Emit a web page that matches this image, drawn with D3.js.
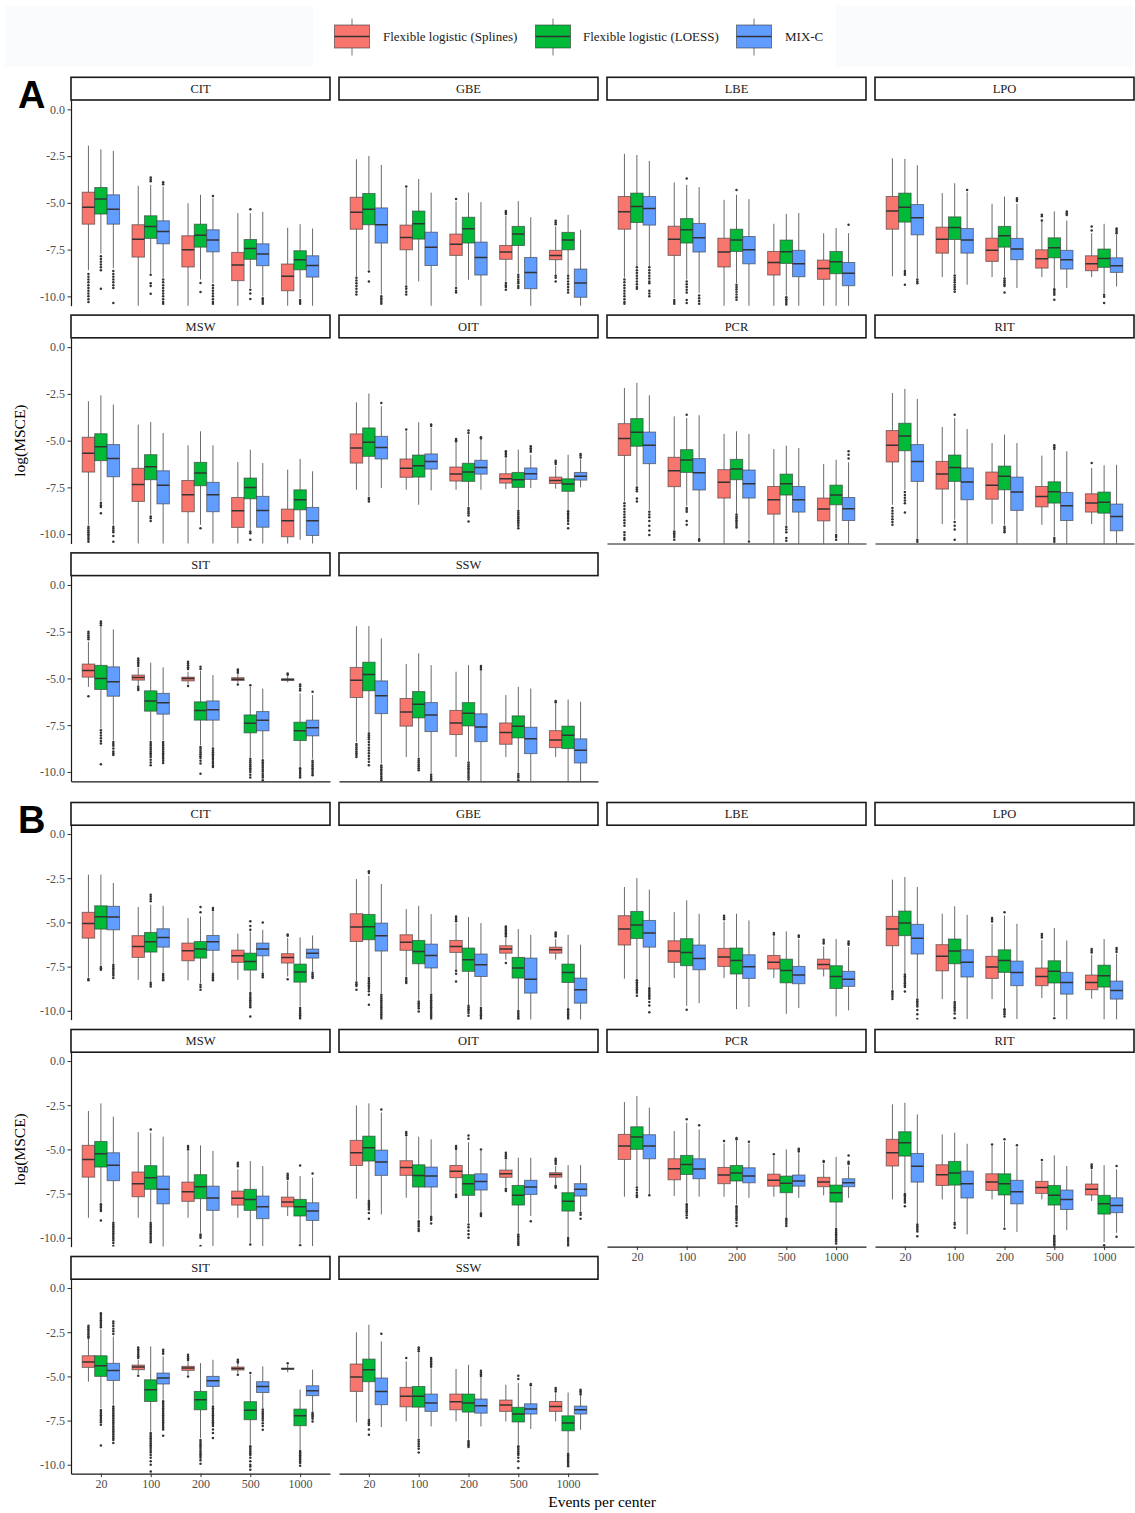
<!DOCTYPE html>
<html>
<head>
<meta charset="utf-8">
<script src="https://cdn.jsdelivr.net/npm/d3@7"></script>
<style>
  body { margin: 0; background: #fff; }
  svg { display: block; }
  text { font-family: "Liberation Serif", "Times New Roman", serif; }
</style>
</head>
<body>
<svg id="chart" width="1135" height="1513"></svg>
<script>
// Facets, x categories, methods
const facets = ["CIT", "GBE", "LBE", "LPO", "MSW", "OIT", "PCR", "RIT", "SIT", "SSW"];
const events = ["20", "100", "200", "500", "1000"];
const methods = ["Flexible logistic (Splines)", "Flexible logistic (LOESS)", "MIX-C"];
const methodColors = ["#F8766D", "#00BA38", "#619CFF"];
const yTicks = [0, -2.5, -5, -7.5, -10];

// Each box: [upper whisker, Q3, median, Q1, lower whisker, [outliers]]
// Order within a facet: event 20 (Splines, LOESS, MIX-C), event 100 (...), ...

// ---------- Panel A ----------
const aCIT = [
  [-1.94, -4.43, -5.23, -6.14, -8.6, [-8.8, -8.95, -9.1, -9.25, -9.4, -9.55, -9.7, -9.85, -10.0, -10.15, -10.3]],
  [-2.14, -4.18, -4.80, -5.60, -7.72, [-7.85, -8.0, -8.15, -8.3, -8.45, -8.6, -9.6]],
  [-2.22, -4.57, -5.34, -6.14, -8.5, [-8.65, -8.8, -8.95, -9.1, -9.25, -9.4, -9.55, -10.35]],
  [-4.09, -6.17, -6.94, -7.90, -10.6, []],
  [-4.04, -5.69, -6.26, -6.90, -8.75, [-3.65, -3.75, -3.85, -8.84, -9.3, -9.45, -9.86]],
  [-4.13, -5.96, -6.53, -7.19, -9.0, [-3.9, -4.0, -9.1, -9.25, -9.4, -9.55, -9.7, -9.85, -10.0, -10.15, -10.3, -10.4]],
  [-5.02, -6.76, -7.51, -8.43, -10.6, []],
  [-4.57, -6.14, -6.73, -7.37, -9.1, [-9.29, -9.77]],
  [-4.75, -6.44, -6.98, -7.62, -9.3, [-4.63, -9.4, -9.55, -9.7, -9.85, -10.0, -10.15, -10.3, -10.4]],
  [-5.55, -7.65, -8.33, -9.16, -10.6, []],
  [-5.55, -6.96, -7.44, -8.02, -9.55, [-5.34, -9.65, -9.85, -10.14]],
  [-5.48, -7.19, -7.74, -8.36, -10.0, [-10.1, -10.2, -10.3, -10.4]],
  [-6.33, -8.27, -8.93, -9.70, -10.6, []],
  [-6.14, -7.56, -8.04, -8.58, -10.09, [-10.2, -10.3, -10.4]],
  [-6.37, -7.83, -8.35, -8.97, -10.6, []]
];
const aGBE = [
  [-2.67, -4.70, -5.50, -6.41, -8.93, [-9.0, -9.15, -9.3, -9.45, -9.6, -9.75, -9.9]],
  [-2.49, -4.50, -5.34, -6.17, -8.58, [-8.67, -9.2]],
  [-2.97, -5.27, -6.17, -7.15, -9.9, [-10.0, -10.1, -10.2, -10.3, -10.4]],
  [-4.22, -6.19, -6.85, -7.51, -9.38, [-4.13, -9.47, -9.6, -9.75, -9.9]],
  [-3.72, -5.44, -6.12, -6.94, -9.2, []],
  [-4.45, -6.57, -7.37, -8.35, -10.6, []],
  [-4.93, -6.67, -7.22, -7.81, -9.47, [-4.80, -9.55, -9.7, -9.8]],
  [-4.45, -5.77, -6.39, -7.15, -9.11, []],
  [-4.96, -7.10, -7.92, -8.86, -10.6, []],
  [-5.69, -7.28, -7.63, -8.02, -9.2, [-5.44, -5.52, -5.6, -9.29, -9.4, -9.5, -9.65]],
  [-4.91, -6.26, -6.67, -7.28, -8.75, [-8.84, -8.97, -9.1, -9.2, -9.3, -9.45, -9.55]],
  [-5.77, -7.92, -8.72, -9.59, -10.6, []],
  [-6.26, -7.54, -7.81, -8.04, -8.84, [-5.96, -6.05, -6.15, -8.9, -9.0, -9.2]],
  [-5.64, -6.58, -6.98, -7.51, -8.84, [-8.9, -9.05, -9.2, -9.35, -9.5, -9.65, -9.8]],
  [-6.44, -8.54, -9.29, -10.05, -10.6, []]
];
const aLBE = [
  [-2.38, -4.66, -5.48, -6.41, -9.0, [-9.1, -9.25, -9.4, -9.55, -9.7, -9.85, -10.0, -10.15, -10.3, -10.4]],
  [-2.44, -4.48, -5.20, -6.05, -8.4, [-8.45, -8.6, -8.75, -8.9, -9.05, -9.2, -9.35, -9.5, -9.6]],
  [-2.76, -4.66, -5.30, -6.19, -8.4, [-8.45, -8.6, -8.75, -8.9, -9.05, -9.2, -9.3, -9.7, -9.85, -10.0]],
  [-3.91, -6.25, -6.94, -7.81, -10.09, [-10.2, -10.3, -10.4]],
  [-4.04, -5.84, -6.44, -7.15, -9.1, [-3.70, -9.2, -9.35, -9.5, -9.65, -9.8, -10.2, -10.35]],
  [-4.16, -6.10, -6.87, -7.63, -9.82, [-9.95, -10.1, -10.25, -10.4]],
  [-4.84, -6.89, -7.63, -8.43, -10.6, []],
  [-4.57, -6.41, -6.98, -7.60, -9.29, [-4.31, -9.38, -9.5, -9.62, -9.75, -9.9, -10.05, -10.18]],
  [-4.80, -6.80, -7.51, -8.26, -10.6, []],
  [-6.12, -7.60, -8.19, -8.86, -10.6, []],
  [-5.59, -6.99, -7.62, -8.24, -9.96, [-10.05, -10.15, -10.25, -10.35, -10.45]],
  [-5.55, -7.54, -8.26, -8.95, -10.6, []],
  [-6.62, -8.06, -8.51, -9.09, -10.6, []],
  [-6.35, -7.60, -8.15, -8.79, -10.6, []],
  [-6.62, -8.19, -8.77, -9.43, -10.6, [-6.17]]
];
const aLPO = [
  [-2.62, -4.66, -5.44, -6.41, -8.93, []],
  [-2.65, -4.48, -5.23, -6.03, -8.58, [-8.65, -8.75, -8.85, -9.38]],
  [-2.99, -5.09, -5.80, -6.71, -9.02, [-9.1, -9.2, -9.3]],
  [-4.48, -6.30, -6.94, -7.69, -8.97, []],
  [-3.95, -5.75, -6.32, -6.96, -8.79, [-8.88, -9.0, -9.12, -9.25, -9.38, -9.5, -9.62, -9.75]],
  [-4.43, -6.37, -6.98, -7.69, -9.38, [-4.31]],
  [-5.05, -6.89, -7.54, -8.13, -8.97, []],
  [-4.66, -6.26, -6.76, -7.37, -8.97, [-9.05, -9.15, -9.25, -9.35, -9.45, -9.8]],
  [-5.05, -6.90, -7.47, -8.04, -9.55, [-4.75, -4.82, -4.9]],
  [-6.0, -7.51, -7.99, -8.49, -8.97, [-5.64, -5.72, -5.94]],
  [-5.46, -6.87, -7.40, -7.94, -9.55, [-9.62, -9.72, -9.82, -9.92, -10.18]],
  [-5.95, -7.54, -8.04, -8.54, -9.55, [-5.46, -5.55, -5.65]],
  [-6.62, -7.83, -8.26, -8.63, -8.97, [-6.26, -6.48]],
  [-6.12, -7.47, -7.97, -8.45, -9.82, [-9.92, -10.02, -10.35]],
  [-6.71, -7.94, -8.36, -8.72, -9.47, [-6.37, -6.45, -6.55, -6.62]]
];
const aMSW = [
  [-2.89, -4.82, -5.68, -6.68, -9.5, [-9.6, -9.7, -9.8, -9.9, -10.0, -10.1, -10.2, -10.3, -10.4]],
  [-2.57, -4.63, -5.32, -6.07, -8.25, [-8.34, -8.45, -8.55, -8.88]],
  [-3.07, -5.21, -5.95, -6.93, -9.5, [-9.6, -9.7, -9.8, -9.9, -10.1, -10.4]],
  [-4.14, -6.48, -7.34, -8.25, -10.6, []],
  [-4.0, -5.75, -6.39, -7.09, -8.96, [-9.05, -9.15, -9.3]],
  [-4.59, -6.61, -7.39, -8.38, -10.6, []],
  [-5.25, -7.13, -7.89, -8.8, -10.6, []],
  [-4.5, -6.16, -6.73, -7.41, -9.5, [-9.68]],
  [-5.25, -7.23, -7.89, -8.8, -10.6, []],
  [-6.14, -8.04, -8.75, -9.64, -10.6, []],
  [-5.48, -7.0, -7.5, -8.11, -9.77, [-9.86, -9.95, -10.3]],
  [-6.2, -7.98, -8.73, -9.63, -10.6, []],
  [-6.55, -8.66, -9.29, -10.14, -10.6, []],
  [-5.98, -7.63, -8.16, -8.7, -10.3, []],
  [-6.64, -8.57, -9.29, -10.07, -10.6, []]
];
const aOIT = [
  [-2.95, -4.64, -5.39, -6.2, -7.63, []],
  [-2.48, -4.32, -5.09, -5.84, -7.98, [-8.07, -8.15, -8.25]],
  [-3.16, -4.77, -5.36, -5.98, -7.54, [-2.98]],
  [-4.5, -5.98, -6.48, -6.96, -7.63, [-4.41]],
  [-4.02, -5.77, -6.34, -6.95, -8.43, []],
  [-4.32, -5.71, -6.11, -6.52, -7.66, [-4.14, -4.22]],
  [-5.13, -6.41, -6.79, -7.16, -7.63, [-4.91, -4.98, -5.05]],
  [-4.68, -6.21, -6.68, -7.18, -8.52, [-4.46, -4.59, -8.6, -8.7, -8.8, -8.9, -9.0, -9.32]],
  [-4.95, -6.05, -6.43, -6.79, -7.63, [-4.82, -4.88]],
  [-5.95, -6.77, -7.04, -7.27, -7.59, [-5.57, -5.66, -5.75, -5.85]],
  [-5.48, -6.7, -7.09, -7.5, -8.66, [-8.75, -8.85, -8.95, -9.05, -9.15, -9.25, -9.35, -9.45, -9.55, -9.68]],
  [-5.75, -6.46, -6.77, -7.07, -7.54, [-5.3, -5.4, -5.5, -5.6]],
  [-6.35, -6.95, -7.13, -7.29, -7.57, [-6.07, -6.15, -6.25]],
  [-5.75, -7.04, -7.32, -7.71, -8.7, [-8.78, -8.88, -8.98, -9.08, -9.18, -9.3, -9.45, -9.68]],
  [-6.0, -6.7, -6.91, -7.11, -7.5, [-5.71, -5.8, -5.9]]
];
const aPCR = [
  [-2.18, -4.09, -4.88, -5.79, -8.25, [-8.35, -8.5, -8.65, -8.8, -8.95, -9.1, -9.25, -9.4, -9.55, -9.9, -10.05, -10.2, -10.3]],
  [-1.91, -3.82, -4.55, -5.3, -7.41, [-7.5, -7.6, -7.7, -8.1, -8.25]],
  [-2.57, -4.54, -5.25, -6.23, -8.7, [-8.8, -8.95, -9.1, -9.3, -9.55, -9.8, -10.04]],
  [-3.7, -5.89, -6.61, -7.46, -9.77, [-9.86, -9.95, -10.05, -10.15, -10.3]],
  [-3.79, -5.48, -6.04, -6.7, -8.48, [-3.61, -8.6, -8.7, -8.8, -9.3, -9.5]],
  [-3.64, -5.96, -6.71, -7.64, -10.21, [-10.27, -10.35]],
  [-4.64, -6.55, -7.23, -8.07, -10.6, []],
  [-4.5, -6.0, -6.52, -7.09, -8.88, [-8.95, -9.05, -9.15, -9.25, -9.35, -9.45, -9.55, -9.65]],
  [-4.64, -6.57, -7.3, -8.07, -10.3, [-10.39]],
  [-5.45, -7.45, -8.16, -8.93, -10.6, []],
  [-5.27, -6.79, -7.3, -7.91, -9.55, [-9.62, -9.75, -9.9, -10.2, -10.35]],
  [-5.39, -7.45, -8.16, -8.82, -10.6, []],
  [-6.25, -8.07, -8.66, -9.29, -10.6, []],
  [-6.02, -7.38, -7.91, -8.43, -9.95, [-10.05, -10.15, -10.3]],
  [-6.16, -8.04, -8.64, -9.27, -10.6, [-5.57, -5.75, -5.95]]
];
const aRIT = [
  [-2.45, -4.46, -5.25, -6.14, -8.43, [-8.6, -8.75, -8.9, -9.05, -9.2, -9.35, -9.5]],
  [-2.23, -4.07, -4.75, -5.54, -7.63, [-7.75, -7.9, -8.05, -8.2, -8.35, -8.84]],
  [-2.77, -5.21, -6.11, -7.18, -10.21, [-10.3, -10.4]],
  [-4.27, -6.11, -6.79, -7.59, -9.46, []],
  [-3.79, -5.77, -6.43, -7.18, -9.23, [-3.61, -9.35, -9.55, -9.75, -10.3]],
  [-4.38, -6.46, -7.21, -8.16, -10.6, []],
  [-5.13, -6.68, -7.39, -8.13, -9.45, []],
  [-4.68, -6.36, -6.91, -7.63, -9.5, [-9.6, -9.7, -9.8, -9.9]],
  [-5.13, -6.95, -7.75, -8.73, -10.6, []],
  [-5.8, -7.45, -7.98, -8.54, -9.5, []],
  [-5.52, -7.2, -7.73, -8.34, -10.12, [-5.25, -5.35, -5.45, -10.2, -10.3, -10.4]],
  [-5.57, -7.77, -8.48, -9.27, -10.6, []],
  [-6.46, -7.84, -8.34, -8.82, -9.46, [-6.2]],
  [-6.32, -7.75, -8.29, -8.88, -10.6, []],
  [-6.29, -8.39, -9.05, -9.82, -10.6, []]
];
const aSIT = [
  [-3.04, -4.23, -4.57, -4.93, -5.45, [-2.5, -2.6, -2.7, -2.8, -2.9, -5.95]],
  [-2.23, -4.3, -5.0, -5.59, -7.68, [-1.96, -2.05, -2.15, -7.77, -7.9, -8.05, -8.2, -8.35, -8.48, -9.59]],
  [-2.38, -4.38, -5.18, -5.95, -8.3, [-8.4, -8.5, -8.6, -8.75, -8.9, -9.0, -9.1]],
  [-4.43, -4.82, -4.95, -5.09, -5.39, [-3.93, -4.03, -4.13, -4.23, -4.33, -5.45, -5.55, -5.62]],
  [-4.16, -5.66, -6.21, -6.75, -8.3, [-8.4, -8.5, -8.6, -8.7, -8.8, -8.9, -9.0, -9.1, -9.2, -9.35, -9.5, -9.64]],
  [-4.41, -5.8, -6.3, -6.91, -8.3, [-8.4, -8.5, -8.6, -8.7, -8.8, -8.9, -9.0, -9.1, -9.2, -9.3, -9.4, -9.52]],
  [-4.64, -4.93, -5.0, -5.13, -5.32, [-4.11, -4.2, -4.3, -4.4, -4.5, -5.41]],
  [-4.59, -6.25, -6.71, -7.23, -8.57, [-4.38, -4.5, -8.66, -8.76, -8.86, -8.96, -9.06, -9.16, -9.26, -9.4, -9.55, -10.09]],
  [-4.82, -6.2, -6.68, -7.23, -8.66, [-8.75, -8.85, -8.95, -9.05, -9.15, -9.25, -9.35, -9.45, -9.55, -9.65, -9.73]],
  [-4.77, -4.96, -5.04, -5.11, -5.23, [-4.52, -4.6, -4.7, -5.32]],
  [-5.45, -6.95, -7.39, -7.91, -9.2, [-5.36, -9.3, -9.4, -9.5, -9.6, -9.7, -9.8, -9.9, -10.0, -10.15, -10.3]],
  [-5.54, -6.77, -7.23, -7.8, -9.29, [-9.38, -9.48, -9.58, -9.68, -9.78, -9.88, -9.98, -10.1, -10.2, -10.3, -10.45]],
  [-4.88, -5.02, -5.05, -5.11, -5.21, [-4.73, -4.8]],
  [-5.8, -7.34, -7.8, -8.32, -9.73, [-5.32, -5.42, -5.55, -5.65, -9.8, -9.9, -10.0, -10.1, -10.2, -10.3]],
  [-5.89, -7.23, -7.63, -8.07, -9.29, [-5.71, -9.4, -9.5, -9.6, -9.7, -9.8, -9.9, -10.0, -10.1, -10.18]]
];
const aSSW = [
  [-2.2, -4.41, -5.09, -6.02, -8.39, [-8.5, -8.6, -8.7, -8.8, -8.9, -9.0, -9.1, -9.2]],
  [-2.2, -4.13, -4.79, -5.66, -7.86, [-7.95, -8.05, -8.15, -8.25, -8.4, -8.55, -8.7, -8.85, -9.0, -9.15, -9.3, -9.45, -9.64]],
  [-2.86, -5.13, -5.93, -6.88, -9.55, [-9.65, -9.75, -9.85, -9.95, -10.05, -10.15, -10.25, -10.35, -10.45]],
  [-4.23, -6.07, -6.79, -7.55, -9.2, []],
  [-3.66, -5.7, -6.38, -7.11, -9.2, [-9.3, -9.4, -9.5, -9.6, -9.7, -9.8, -9.91]],
  [-4.29, -6.29, -6.96, -7.84, -10.09, [-10.15, -10.25, -10.35, -10.45]],
  [-4.64, -6.71, -7.38, -8.0, -9.2, []],
  [-4.29, -6.29, -6.86, -7.54, -9.41, [-9.5, -9.6, -9.7, -9.8, -9.9, -10.0, -10.1, -10.2, -10.3, -10.4]],
  [-4.6, -6.89, -7.59, -8.38, -10.6, [-4.34, -4.43, -4.52]],
  [-5.89, -7.38, -7.89, -8.52, -9.2, []],
  [-5.45, -7.0, -7.55, -8.18, -10.0, [-10.1, -10.2, -10.3, -10.45]],
  [-5.54, -7.61, -8.23, -9.02, -10.6, []],
  [-6.34, -7.79, -8.29, -8.7, -9.2, [-6.2, -6.27]],
  [-6.13, -7.55, -8.04, -8.75, -10.6, []],
  [-6.25, -8.23, -8.84, -9.52, -10.6, []]
];

// ---------- Panel B ----------
const bCIT = [
  [-2.3, -4.43, -5.06, -5.89, -8.11, [-8.2, -8.28]],
  [-2.3, -4.06, -4.68, -5.38, -7.45, [-7.52, -7.6, -7.68]],
  [-2.77, -4.09, -4.7, -5.42, -7.3, [-7.4, -7.5, -7.6, -7.7, -7.8, -7.9, -8.0, -8.15]],
  [-4.13, -5.75, -6.36, -6.98, -8.25, []],
  [-4.0, -5.57, -6.09, -6.68, -8.34, [-3.43, -3.55, -3.68, -3.81, -8.42, -8.52, -8.62]],
  [-4.06, -5.36, -5.85, -6.4, -7.83, [-7.92, -8.02, -8.12, -8.22, -8.28]],
  [-4.75, -6.17, -6.6, -7.17, -8.28, []],
  [-4.66, -6.08, -6.51, -7.02, -8.43, [-4.13, -4.43, -8.53, -8.65, -8.81]],
  [-4.38, -5.74, -6.09, -6.58, -7.83, [-4.19, -4.3, -7.9, -8.0, -8.1, -8.2, -8.28]],
  [-5.64, -6.57, -6.89, -7.26, -8.25, []],
  [-5.51, -6.74, -7.21, -7.7, -8.91, [-4.94, -5.2, -5.42, -9.0, -9.1, -9.2, -9.3, -9.4, -9.5, -9.6, -9.7, -9.8, -10.32]],
  [-5.42, -6.17, -6.51, -6.89, -7.83, [-5.0, -7.9, -8.0, -8.1]],
  [-5.89, -6.77, -6.98, -7.3, -8.06, [-5.68, -5.76, -8.21]],
  [-5.85, -7.36, -7.81, -8.38, -9.75, [-9.85, -9.95, -10.05, -10.15, -10.25, -10.35, -10.45]],
  [-5.74, -6.51, -6.74, -7.02, -7.77, [-7.85, -7.95, -8.05, -8.15]]
];
const bGBE = [
  [-2.55, -4.51, -5.26, -6.08, -8.34, [-8.4, -8.5, -8.6, -8.81]],
  [-2.36, -4.55, -5.25, -5.98, -8.06, [-2.11, -2.2, -8.15, -8.25, -8.35, -8.45, -8.55, -8.65, -8.75, -8.9, -9.1, -9.66]],
  [-2.83, -5.04, -5.75, -6.62, -9.0, [-9.1, -9.2, -9.3, -9.4, -9.5, -9.6, -9.7, -9.8, -9.9, -10.0, -10.1, -10.2, -10.3, -10.4, -10.5]],
  [-4.25, -5.7, -6.13, -6.58, -8.06, [-8.15, -8.25, -8.35, -8.43]],
  [-4.06, -6.02, -6.64, -7.34, -9.38, [-9.47, -9.57, -9.67, -9.77, -9.87, -10.04]],
  [-4.53, -6.23, -6.87, -7.58, -9.0, [-9.1, -9.2, -9.3, -9.4, -9.5, -9.6, -9.7, -9.8, -9.9, -10.0, -10.1, -10.2, -10.3, -10.4, -10.5]],
  [-5.05, -6.02, -6.36, -6.7, -7.68, [-4.66, -4.75, -4.85, -4.94, -7.74, -7.9, -8.34]],
  [-4.7, -6.45, -7.11, -7.77, -9.66, [-9.72, -9.82, -9.92, -10.02, -10.12, -10.28]],
  [-5.04, -6.79, -7.4, -8.06, -9.75, [-9.85, -9.95, -10.05, -10.15, -10.25, -10.35, -10.45]],
  [-5.85, -6.32, -6.51, -6.74, -7.11, [-5.23, -5.3, -5.38, -5.46, -5.54, -5.62, -5.7, -5.78, -7.3]],
  [-5.38, -6.98, -7.58, -8.15, -9.94, [-10.02, -10.12, -10.22, -10.32, -10.42, -10.5]],
  [-5.7, -7.02, -8.21, -9.0, -10.6, []],
  [-5.95, -6.4, -6.55, -6.74, -7.11, [-5.57, -5.65, -5.72, -5.8]],
  [-5.7, -7.36, -7.83, -8.4, -9.85, [-9.91, -10.0, -10.1, -10.2, -10.3, -10.4, -10.47]],
  [-6.26, -8.15, -8.81, -9.57, -10.6, []]
];
const bLBE = [
  [-3.0, -4.62, -5.38, -6.28, -8.19, []],
  [-2.49, -4.38, -5.15, -5.91, -8.21, [-8.28, -8.38, -8.48, -8.58, -8.68, -8.78, -8.88, -8.98, -9.15]],
  [-3.15, -4.89, -5.6, -6.4, -8.66, [-8.72, -8.82, -8.92, -9.02, -9.12, -9.22, -9.32, -9.5, -9.7, -10.09]],
  [-4.42, -6.04, -6.62, -7.26, -8.15, []],
  [-3.75, -5.92, -6.7, -7.45, -9.72, [-9.94]],
  [-4.51, -6.28, -7.04, -7.68, -9.57, []],
  [-4.95, -6.47, -6.96, -7.49, -8.15, [-4.62, -4.72, -4.82]],
  [-4.51, -6.45, -7.15, -7.92, -9.91, []],
  [-4.89, -6.83, -7.51, -8.17, -9.79, []],
  [-5.79, -6.87, -7.26, -7.64, -8.15, [-5.6, -5.68]],
  [-5.51, -7.08, -7.72, -8.42, -10.17, []],
  [-5.95, -7.49, -7.98, -8.47, -9.85, [-5.74, -5.82]],
  [-6.36, -7.08, -7.38, -7.64, -8.06, [-5.98, -6.1, -6.2]],
  [-5.94, -7.45, -8.06, -8.74, -10.32, []],
  [-6.4, -7.77, -8.21, -8.62, -9.98, [-6.08, -6.18, -6.26]]
];
const bLPO = [
  [-2.58, -4.66, -5.38, -6.32, -8.81, [-8.9, -9.0, -9.1, -9.2, -9.34]],
  [-2.43, -4.36, -5.04, -5.75, -7.87, [-7.95, -8.05, -8.15, -8.25, -8.35, -8.45, -8.55, -8.65, -8.91]],
  [-3.0, -5.11, -5.89, -6.79, -9.28, [-9.36, -9.46, -9.56, -9.66, -9.76, -9.95, -10.2, -10.47]],
  [-4.51, -6.26, -6.92, -7.74, -9.34, []],
  [-4.09, -5.94, -6.62, -7.34, -9.42, [-9.5, -9.6, -9.7, -9.8, -9.9, -10.0, -10.15, -10.42]],
  [-4.57, -6.55, -7.26, -8.09, -10.47, []],
  [-5.1, -6.92, -7.53, -8.17, -9.34, [-4.75, -4.85, -4.95]],
  [-4.62, -6.55, -7.15, -7.83, -9.85, [-4.43, -9.91, -10.0, -10.1, -10.2, -10.32]],
  [-5.08, -7.19, -7.83, -8.58, -10.47, []],
  [-6.0, -7.58, -8.06, -8.58, -9.28, [-5.66, -5.75, -5.85]],
  [-5.32, -7.17, -7.77, -8.43, -10.32, [-10.42]],
  [-6.02, -7.83, -8.4, -9.06, -10.5, []],
  [-6.83, -7.98, -8.4, -8.81, -9.32, [-6.51, -6.6, -6.7]],
  [-5.94, -7.42, -8.02, -8.66, -10.5, []],
  [-6.79, -8.32, -8.85, -9.34, -10.5, [-6.45, -6.55, -6.68]]
];
const bMSW = [
  [-2.83, -4.77, -5.57, -6.57, -8.87, []],
  [-2.4, -4.55, -5.25, -6.0, -8.02, [-8.1, -8.2, -8.3, -8.4, -8.49, -9.02]],
  [-3.15, -5.19, -5.89, -6.77, -9.06, [-9.15, -9.25, -9.35, -9.45, -9.55, -9.65, -9.75, -9.85, -9.95, -10.05, -10.15, -10.3, -10.47]],
  [-4.02, -6.28, -6.94, -7.68, -8.87, []],
  [-4.06, -5.92, -6.6, -7.26, -9.06, [-3.87, -9.15, -9.25, -9.35, -9.45, -9.55, -9.65, -9.75, -9.85, -9.95, -10.05, -10.15, -10.25]],
  [-4.28, -6.51, -7.26, -8.08, -10.6, []],
  [-5.1, -6.85, -7.4, -7.94, -8.87, [-4.81, -4.9, -5.0]],
  [-4.77, -6.43, -7.11, -7.79, -9.72, [-9.81, -9.9, -10.0, -10.47]],
  [-5.09, -7.08, -7.75, -8.45, -10.47, []],
  [-6.13, -7.36, -7.77, -8.15, -8.87, [-5.75, -5.85, -5.95]],
  [-5.66, -7.26, -7.83, -8.45, -10.28, [-10.38]],
  [-5.94, -7.64, -8.25, -8.92, -10.47, []],
  [-6.79, -7.7, -7.98, -8.25, -8.77, [-6.38, -6.48, -6.58, -6.68]],
  [-6.51, -7.83, -8.25, -8.77, -10.32, [-5.91, -10.43]],
  [-6.6, -8.02, -8.49, -9.02, -10.47, [-6.36]]
];
const bOIT = [
  [-2.51, -4.49, -5.19, -5.91, -7.79, []],
  [-2.4, -4.25, -4.91, -5.66, -7.83, [-7.9, -8.0, -8.1, -8.2, -8.3, -8.4, -8.6, -8.92]],
  [-2.92, -5.04, -5.72, -6.47, -8.68, [-2.74]],
  [-4.3, -5.64, -6.02, -6.47, -7.74, [-4.02, -4.1, -4.2]],
  [-4.28, -5.87, -6.47, -7.13, -8.96, [-9.06, -9.16, -9.26, -9.36, -9.5, -9.62]],
  [-4.43, -6.0, -6.51, -7.13, -8.74, [-8.81, -8.9, -9.0, -9.19]],
  [-5.05, -5.91, -6.23, -6.6, -7.45, [-4.81, -4.9, -4.98, -7.55, -7.62, -7.7]],
  [-4.6, -6.43, -6.94, -7.6, -9.15, [-4.21, -4.4, -9.25, -9.4, -9.6, -9.8, -10.0]],
  [-5.09, -6.38, -6.81, -7.3, -8.58, [-5.0, -8.62, -8.7, -8.77]],
  [-5.6, -6.17, -6.38, -6.58, -7.11, [-5.19, -5.3, -5.4, -5.5, -7.23, -7.3, -7.36]],
  [-5.47, -7.04, -7.6, -8.15, -9.72, [-9.81, -9.91, -10.01, -10.11, -10.21, -10.31, -10.41]],
  [-5.47, -6.75, -7.13, -7.55, -8.77, [-9.06]],
  [-5.94, -6.32, -6.42, -6.57, -6.98, [-5.53, -5.62, -5.72, -5.82, -7.05, -7.12, -7.17]],
  [-5.89, -7.45, -7.94, -8.49, -9.94, [-10.02, -10.12, -10.22, -10.35, -10.47]],
  [-5.89, -6.94, -7.26, -7.64, -8.49, [-8.58, -8.7, -8.92]]
];
const bPCR = [
  [-2.32, -4.15, -4.81, -5.57, -7.68, []],
  [-1.98, -3.72, -4.3, -5.0, -7.08, [-7.15, -7.3, -7.45, -7.6, -7.7]],
  [-2.64, -4.17, -4.81, -5.53, -7.55, [-7.6]],
  [-3.96, -5.53, -6.09, -6.72, -7.64, []],
  [-3.49, -5.34, -5.85, -6.42, -8.02, [-3.3, -8.11, -8.2, -8.3, -8.4, -8.5, -8.6, -8.72, -8.87]],
  [-3.87, -5.53, -6.11, -6.66, -7.68, [-3.64]],
  [-4.66, -6.02, -6.45, -6.94, -7.68, [-4.53]],
  [-4.5, -5.91, -6.34, -6.79, -8.11, [-4.36, -4.42, -8.21, -8.3, -8.4, -8.5, -8.6, -8.7, -8.8, -8.9, -9.0, -9.15, -9.34]],
  [-4.66, -6.04, -6.51, -6.89, -7.74, [-4.57]],
  [-5.38, -6.4, -6.74, -7.08, -7.68, [-5.28]],
  [-5.0, -6.51, -6.92, -7.45, -8.87, [-8.92, -9.0, -9.1, -9.2, -9.34]],
  [-5.22, -6.45, -6.79, -7.08, -7.74, [-4.96, -5.04, -5.12]],
  [-5.82, -6.58, -6.85, -7.11, -7.6, [-5.66, -5.72]],
  [-5.42, -7.02, -7.45, -7.98, -9.43, [-9.5, -9.6, -9.7, -9.8, -9.9, -10.0, -10.1, -10.2, -10.32]],
  [-5.95, -6.66, -6.89, -7.11, -7.74, [-5.34, -5.7, -5.76, -5.82]]
];
const bRIT = [
  [-2.45, -4.43, -5.19, -5.94, -7.83, []],
  [-2.36, -4.0, -4.62, -5.38, -7.45, [-7.52, -7.6, -7.7, -7.8, -7.9, -8.0, -8.21]],
  [-3.02, -5.23, -5.96, -6.85, -9.19, [-9.25, -9.35, -9.45, -9.55, -9.65, -9.91]],
  [-4.15, -5.87, -6.43, -7.04, -7.83, []],
  [-4.06, -5.68, -6.34, -7.02, -9.06, [-9.15, -9.25, -9.43]],
  [-4.68, -6.23, -6.94, -7.75, -9.81, []],
  [-4.8, -6.38, -6.85, -7.32, -7.83, [-4.72]],
  [-4.55, -6.38, -6.94, -7.58, -9.38, [-4.43, -9.49]],
  [-4.88, -6.75, -7.4, -8.08, -9.68, [-4.77]],
  [-5.7, -6.81, -7.15, -7.49, -7.83, [-5.6]],
  [-5.34, -7.04, -7.6, -8.15, -9.81, [-9.88, -9.96, -10.04, -10.12, -10.2, -10.28, -10.36, -10.47]],
  [-5.94, -7.3, -7.83, -8.4, -9.57, []],
  [-6.15, -6.96, -7.26, -7.58, -7.92, [-5.85, -5.95, -6.05]],
  [-5.89, -7.6, -8.08, -8.66, -10.25, [-10.43]],
  [-6.13, -7.74, -8.17, -8.58, -9.72, [-5.94, -9.94]]
];
const bSIT = [
  [-2.89, -3.83, -4.19, -4.49, -5.3, [-2.13, -2.23, -2.33, -2.43, -2.53, -2.63, -2.73, -2.83]],
  [-2.36, -3.83, -4.4, -5.0, -6.79, [-1.42, -1.52, -1.62, -1.72, -1.82, -1.92, -2.02, -2.12, -2.22, -6.9, -7.0, -7.1, -7.2, -7.3, -7.4, -7.5, -7.6, -7.74, -8.91]],
  [-2.74, -4.26, -4.66, -5.23, -6.6, [-1.89, -2.0, -2.15, -2.3, -2.45, -2.6, -6.7, -6.8, -6.9, -7.0, -7.1, -7.2, -7.3, -7.4, -7.5, -7.6, -7.7, -7.8, -7.9, -8.0, -8.1, -8.2, -8.3, -8.4, -8.5, -8.6, -8.77]],
  [-4.06, -4.36, -4.47, -4.62, -4.87, [-3.36, -3.46, -3.56, -3.66, -3.76, -3.86, -3.96, -4.96]],
  [-3.3, -5.19, -5.75, -6.42, -8.11, [-8.2, -8.3, -8.4, -8.5, -8.6, -8.7, -8.8, -8.9, -9.0, -9.1, -9.2, -9.3, -9.45, -9.6, -9.8, -10.0, -10.38]],
  [-3.87, -4.81, -5.09, -5.43, -6.32, [-3.49, -3.6, -3.72, -6.4, -6.5, -6.6, -6.7, -6.8, -6.9, -7.0, -7.1, -7.2, -7.3, -7.4, -7.5, -7.6, -7.7, -7.8, -7.9, -8.0, -8.36]],
  [-4.15, -4.43, -4.53, -4.66, -4.91, [-3.77, -3.87, -3.97, -4.07, -5.0]],
  [-4.25, -5.85, -6.32, -6.89, -8.49, [-8.6, -8.7, -8.8, -8.9, -9.0, -9.1, -9.2, -9.3, -9.4, -9.5, -9.6, -9.75, -9.94]],
  [-4.06, -5.0, -5.25, -5.57, -6.6, [-6.7, -6.8, -6.9, -7.0, -7.1, -7.2, -7.3, -7.4, -7.5, -7.6, -7.7, -7.8, -8.0, -8.2, -8.49]],
  [-4.25, -4.47, -4.55, -4.64, -4.81, [-4.06, -4.14, -4.21, -4.91]],
  [-4.91, -6.43, -6.92, -7.45, -8.87, [-4.81, -8.95, -9.05, -9.15, -9.25, -9.35, -9.45, -9.6, -9.8, -10.0, -10.1, -10.28]],
  [-4.43, -5.3, -5.57, -5.91, -6.79, [-6.88, -6.98, -7.08, -7.18, -7.28, -7.38, -7.5, -7.65, -7.8, -8.02]],
  [-4.34, -4.53, -4.57, -4.6, -4.77, [-4.25]],
  [-5.75, -6.85, -7.23, -7.79, -9.15, [-9.22, -9.3, -9.38, -9.46, -9.54, -9.62, -9.7, -9.8, -9.9, -10.06]],
  [-4.62, -5.53, -5.81, -6.09, -6.98, [-7.06, -7.14, -7.22, -7.3, -7.4, -7.55]]
];
const bSSW = [
  [-2.51, -4.3, -5.04, -5.85, -7.6, []],
  [-2.08, -4.02, -4.62, -5.3, -7.36, [-7.45, -7.55, -7.65, -7.75, -8.0, -8.3]],
  [-3.02, -5.09, -5.85, -6.6, -7.87, [-2.58]],
  [-4.15, -5.62, -6.13, -6.72, -7.55, [-3.96]],
  [-3.68, -5.57, -6.13, -6.74, -8.49, [-3.36, -3.46, -3.58, -8.58, -8.7, -8.82, -8.95, -9.1, -9.3]],
  [-4.55, -6.0, -6.51, -6.98, -7.83, [-3.96, -4.06, -4.16, -4.26, -4.36, -4.46]],
  [-4.58, -6.0, -6.43, -6.89, -7.55, []],
  [-4.34, -6.0, -6.51, -7.02, -8.58, [-8.66, -8.74, -8.82, -8.9, -9.0]],
  [-5.05, -6.28, -6.66, -7.08, -7.83, [-4.68, -4.78, -4.88, -4.98]],
  [-5.47, -6.34, -6.62, -6.98, -7.55, []],
  [-5.38, -6.75, -7.13, -7.58, -8.87, [-4.96, -5.15, -8.95, -9.05, -9.15, -9.25, -9.35, -9.45, -9.6, -9.8, -10.19]],
  [-5.6, -6.55, -6.85, -7.13, -7.98, [-5.43, -5.5]],
  [-5.95, -6.42, -6.7, -6.98, -7.55, [-5.66, -5.75, -5.85]],
  [-5.91, -7.23, -7.64, -8.08, -9.3, [-9.38, -9.46, -9.54, -9.62, -9.7, -9.8, -9.9, -10.0, -10.09]],
  [-6.1, -6.68, -6.89, -7.13, -8.02, [-5.75, -5.84, -5.93, -6.02]]
];

const panelAData = [aCIT, aGBE, aLBE, aLPO, aMSW, aOIT, aPCR, aRIT, aSIT, aSSW];
const panelBData = [bCIT, bGBE, bLBE, bLPO, bMSW, bOIT, bPCR, bRIT, bSIT, bSSW];

// ---------- layout ----------
const svg = d3.select("#chart");
const colX = [71, 339, 607, 875];
const panelW = 259;
const stripH = 22.7;
const nCols = 4;

const panels = [
  { label: "A", stripTop0: 77.3, pitch: 237.8, plotH: 205.7, data: panelAData, xText: false, letterY: 108 },
  { label: "B", stripTop0: 802.5, pitch: 227, plotH: 194.4, data: panelBData, xText: true, letterY: 833 }
];

// legend band
svg.append("rect").attr("x", 5).attr("y", 6).attr("width", 1128).attr("height", 61).attr("fill", "#fafbfd");
svg.append("rect").attr("x", 313).attr("y", 6).attr("width", 523).attr("height", 61).attr("fill", "#ffffff");
const legendKeyX = [334.5, 535.5, 736.5];
const legendTextX = [383, 583, 785];
methods.forEach((m, i) => {
  const g = svg.append("g");
  const kx = legendKeyX[i], kw = 35, ky = 25, kh = 23;
  g.append("line").attr("x1", kx + kw / 2).attr("x2", kx + kw / 2).attr("y1", 18.5).attr("y2", 55.5)
    .attr("stroke", "#555").attr("stroke-width", 0.8);
  g.append("rect").attr("x", kx).attr("y", ky).attr("width", kw).attr("height", kh)
    .attr("fill", methodColors[i]).attr("stroke", "#333").attr("stroke-opacity", 0.6).attr("stroke-width", 1);
  g.append("line").attr("x1", kx).attr("x2", kx + kw).attr("y1", ky + kh / 2).attr("y2", ky + kh / 2)
    .attr("stroke", "#333").attr("stroke-width", 1.5);
  g.append("text").attr("x", legendTextX[i]).attr("y", 41).attr("font-size", 13).attr("fill", "#1a1a1a").text(m);
});

panels.forEach(p => {
  // panel letter
  svg.append("text").attr("x", 18).attr("y", p.letterY)
    .style("font-family", "'Liberation Sans', Arial, sans-serif")
    .attr("font-weight", "bold").attr("font-size", 38).attr("fill", "#000").text(p.label);

  // y axis title, centred on the middle row
  const midTop = p.stripTop0 + p.pitch + stripH;
  svg.append("text")
    .attr("transform", `translate(25,${midTop + p.plotH / 2}) rotate(-90)`)
    .attr("text-anchor", "middle").attr("font-size", 15.5).attr("fill", "#000").text("log(MSCE)");

  p.data.forEach((boxes, i) => {
    const col = i % nCols, row = Math.floor(i / nCols);
    const x0 = colX[col];
    const stripTop = p.stripTop0 + row * p.pitch;
    const plotTop = stripTop + stripH;
    const plotBottom = plotTop + p.plotH;
    const hasBottomAxis = i + nCols >= p.data.length;

    const y = d3.scaleLinear().domain([-10.5, 0.5]).range([plotBottom, plotTop]);
    const x = d3.scalePoint().domain(events).range([x0, x0 + panelW]).padding(0.6);
    const step = x.step();
    const dodge = d3.scaleBand().domain(methods).range([-0.375 * step, 0.375 * step]);
    const bw = dodge.bandwidth();

    // strip
    svg.append("rect").attr("x", x0).attr("y", stripTop).attr("width", panelW).attr("height", stripH)
      .attr("fill", "#fff").attr("stroke", "#1a1a1a").attr("stroke-width", 1.6);
    svg.append("text").attr("x", x0 + panelW / 2).attr("y", stripTop + stripH / 2 + 4.3)
      .attr("text-anchor", "middle").attr("font-size", 12.5).attr("fill", "#1a1a1a").text(facets[i]);

    // clip to the panel
    const clipId = `clip-${p.label}-${i}`;
    svg.append("clipPath").attr("id", clipId).append("rect")
      .attr("x", x0).attr("y", plotTop).attr("width", panelW).attr("height", p.plotH);
    const g = svg.append("g").attr("clip-path", `url(#${clipId})`);

    const recs = boxes.map((b, k) => ({
      ev: events[Math.floor(k / 3)], m: methods[k % 3], mi: k % 3,
      hi: b[0], q3: b[1], med: b[2], q1: b[3], lo: b[4], out: b[5]
    }));

    recs.forEach(r => {
      const left = x(r.ev) + dodge(r.m);
      const cx = left + bw / 2;
      const bg = g.append("g");
      // whiskers
      bg.append("line").attr("x1", cx).attr("x2", cx).attr("y1", y(r.hi)).attr("y2", y(r.q3))
        .attr("stroke", "#444").attr("stroke-width", 0.8);
      bg.append("line").attr("x1", cx).attr("x2", cx).attr("y1", y(r.q1)).attr("y2", y(r.lo))
        .attr("stroke", "#444").attr("stroke-width", 0.8);
      // box
      bg.append("rect").attr("x", left).attr("y", y(r.q3)).attr("width", bw)
        .attr("height", Math.max(0.5, y(r.q1) - y(r.q3)))
        .attr("fill", methodColors[r.mi]).attr("stroke", "#333").attr("stroke-opacity", 0.6).attr("stroke-width", 1);
      // median
      bg.append("line").attr("x1", left).attr("x2", left + bw).attr("y1", y(r.med)).attr("y2", y(r.med))
        .attr("stroke", "#333").attr("stroke-width", 1.5);
      // outliers
      bg.selectAll("circle").data(r.out).join("circle")
        .attr("cx", cx).attr("cy", d => y(d)).attr("r", 1.25).attr("fill", "#333");
    });

    // y axis on the left column
    if (col === 0) {
      const ya = svg.append("g").attr("transform", `translate(${x0},0)`)
        .call(d3.axisLeft(y).tickValues(yTicks).tickFormat(d => d.toFixed(1)).tickSize(3.5).tickSizeOuter(0).tickPadding(2.5));
      ya.select(".domain").attr("stroke", "#1a1a1a").attr("stroke-width", 1.2);
      ya.selectAll(".tick line").attr("stroke", "#333");
      ya.selectAll(".tick text").attr("font-size", 12).attr("fill", "#4d4d4d")
        .style("font-family", "'Liberation Serif', 'Times New Roman', serif");
    }

    // bottom axis
    if (hasBottomAxis) {
      const xa = svg.append("g").attr("transform", `translate(0,${plotBottom})`);
      if (p.xText) {
        xa.call(d3.axisBottom(x).tickSize(3.5).tickSizeOuter(0).tickPadding(2.5));
        xa.selectAll(".tick line").attr("stroke", "#333");
        xa.selectAll(".tick text").attr("font-size", 12).attr("fill", "#4d4d4d")
          .style("font-family", "'Liberation Serif', 'Times New Roman', serif");
      } else {
        xa.call(d3.axisBottom(x).tickSize(0).tickSizeOuter(0).tickFormat(""));
      }
      xa.select(".domain").attr("stroke", "#1a1a1a").attr("stroke-width", 1.2);
    }
  });
});

// x axis title
svg.append("text").attr("x", 602).attr("y", 1507).attr("text-anchor", "middle")
  .attr("font-size", 15.5).attr("fill", "#000").text("Events per center");
</script>
</body>
</html>
